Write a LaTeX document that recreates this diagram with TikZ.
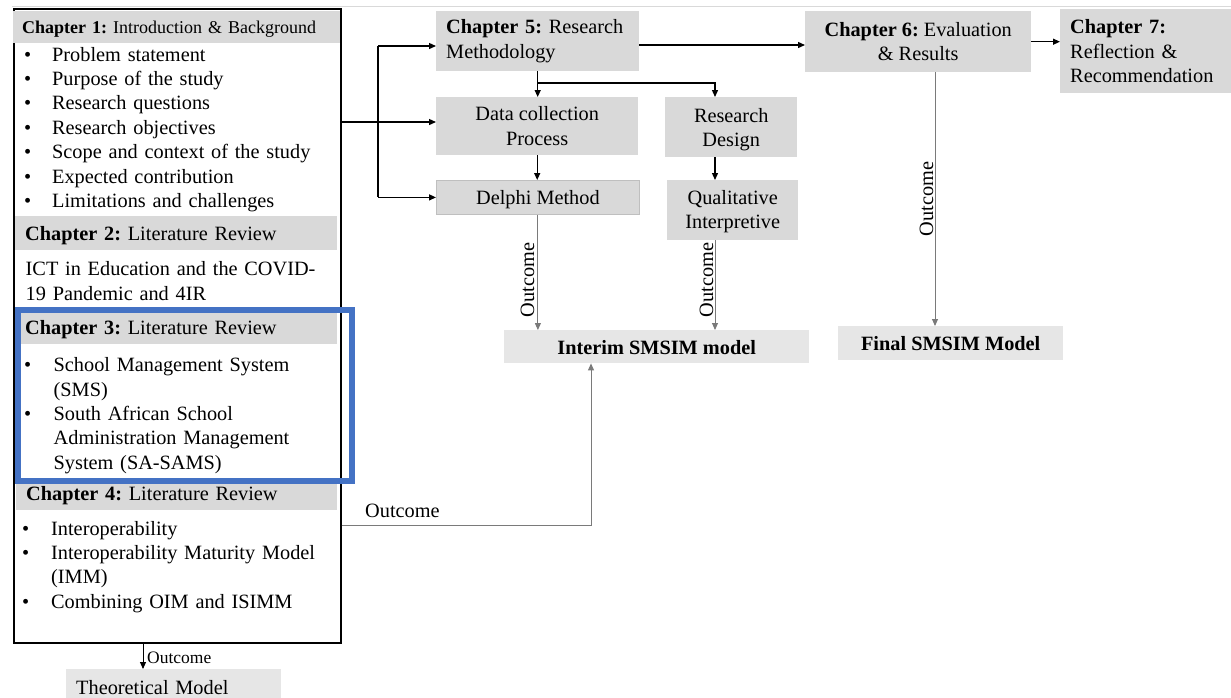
\documentclass[tikz,border=0pt]{standalone}
\usepackage{fontspec}
\setmainfont{Liberation Serif}
\usetikzlibrary{arrows.meta}
\definecolor{hdr}{HTML}{D9D9D9}
\definecolor{lite}{HTML}{E6E6E6}
\definecolor{edge}{HTML}{BFBFBF}
\definecolor{hl}{HTML}{4472C4}
\definecolor{thin}{HTML}{7A7A7A}
\newcommand\fsA{\fontsize{20.3pt}{24.4pt}\selectfont}
\newcommand\fsB{\fontsize{18pt}{22pt}\selectfont}
\newcommand\fsC{\fontsize{17.5pt}{21pt}\selectfont}
\newcommand\bul{\makebox[28pt][l]{•}}
\frenchspacing
\hyphenpenalty=10000
\exhyphenpenalty=10000
\begin{document}
\frenchspacing
\begin{tikzpicture}[x=1pt,y=-1pt,
  box/.style={fill=hdr, inner sep=0pt, anchor=north west, font=\fsA},
  one/.style={text height=14pt, text depth=0pt},
  list/.style={anchor=base west, inner sep=0pt, align=left, font=\fsA},
  arr/.style={line width=1.3pt, -{Triangle[length=7pt,width=6pt]}},
  garr/.style={line width=0.9pt, draw=thin, -{Triangle[length=7pt,width=6pt]}},
  lab/.style={inner sep=0pt, font=\fsA}]
\useasboundingbox (0,0) rectangle (1231,697);

% thin rule along the top
\draw[hdr, line width=1.5pt] (12,6.5) -- (1231,6.5);

% left column: chapters 1-4
\node[draw=black, line width=1.6pt, minimum width=327pt, minimum height=634pt,
      anchor=north west, inner sep=0pt] (main) at (13,8) {};

\node[box, one, text height=12.6pt, font=\fsB, minimum width=327pt, minimum height=32pt, text width=309pt,
      inner xsep=9pt, align=left] (ch1) at (13,11) {\textbf{Chapter 1:} Introduction \& Background};
\node[list, text width=300pt] (l1) at (24,61)
  {\bul Problem statement\\
   \bul Purpose of the study\\
   \bul Research questions\\
   \bul Research objectives\\
   \bul Scope and context of the study\\
   \bul Expected contribution\\
   \bul Limitations and challenges};

\node[box, one, minimum width=322pt, minimum height=34pt, text width=302pt,
      inner xsep=10pt, align=left] (ch2) at (15,216) {\textbf{Chapter 2:} Literature Review};
\node[list, text width=315pt] (l2) at (25.5,275.7)
  {ICT in Education and the COVID-\\19 Pandemic and 4IR};

\node[box, one, text height=11pt, minimum width=318pt, minimum height=31pt, text width=306pt,
      inner xsep=6pt, align=left] (ch3) at (19,313) {\textbf{Chapter 3:} Literature Review};
\node[list, text width=300pt] (l3) at (24,371.7)
  {\makebox[29.5pt][l]{•}School Management System\\
   \makebox[29.5pt][l]{}(SMS)\\
   \makebox[29.5pt][l]{•}South African School\\
   \makebox[29.5pt][l]{}Administration Management\\
   \makebox[29.5pt][l]{}System (SA-SAMS)};

\node[box, one, text height=9.5pt, minimum width=321pt, minimum height=29pt, text width=301pt,
      inner xsep=10pt, align=left] (ch4) at (16,481) {\textbf{Chapter 4:} Literature Review};
\node[list, text width=310pt] (l4) at (22,535)
  {\makebox[29pt][l]{•}Interoperability\\
   \makebox[29pt][l]{•}Interoperability Maturity Model\\
   \makebox[29pt][l]{}(IMM)\\
   \makebox[29pt][l]{•}Combining OIM and ISIMM};

% highlight around chapter 3
\node[draw=hl, line width=6pt, minimum width=334pt, minimum height=171pt,
      anchor=north west, inner sep=0pt] (hlbox) at (15,307) {};

\node[box, one, fill=lite, minimum width=215pt, minimum height=36pt, text width=195pt,
      inner xsep=10pt, align=left] (tm) at (66,669) {Theoretical Model};

% chapter 5 and its methods
\node[box, minimum width=203pt, minimum height=60pt, text width=183pt,
      inner xsep=10pt, align=left] (ch5) at (436,11) {\textbf{Chapter 5:} Research\\Methodology};
\node[box, minimum width=202pt, minimum height=58pt, align=center] (dc) at (436,97)
  {Data collection\\Process};
\node[box, one, draw=edge, line width=0.8pt, minimum width=203pt, minimum height=34pt] (dph)
  at (436,180) {Delphi Method};
\node[box, minimum width=132pt, minimum height=60pt, align=center] (rd) at (665,97)
  {\rule{0pt}{19pt}Research\\Design};
\node[box, minimum width=131pt, minimum height=60pt, align=center] (qi) at (667,180)
  {\rule{0pt}{17pt}Qualitative\\Interpretive};
\node[box, one, text height=15pt, fill=lite, minimum width=305pt, minimum height=33pt] (im) at (504,330)
  {\textbf{Interim SMSIM model}};

% chapters 6 and 7
\node[box, minimum width=226pt, minimum height=61pt, align=center] (ch6) at (805,11)
  {\textbf{Chapter 6:} Evaluation\\\& Results};
\node[box, minimum width=171pt, minimum height=84pt, text width=151pt,
      inner xsep=10pt, align=left] (ch7) at (1060,9)
  {\textbf{Chapter 7:}\\Reflection \&\\Recommendation};
\node[box, one, fill=lite, minimum width=225pt, minimum height=34pt] (fin) at (838,326)
  {\textbf{Final SMSIM Model}};

% routing points
\coordinate (sp) at (378,122);
\coordinate (t5) at (378,46);
\coordinate (r5) at (700,45);
\coordinate (br) at (715,83);
\coordinate (mo) at (591,525);
\coordinate (c6) at (935,72);
\coordinate (mt) at (143,642);

% connectors from the left column
\draw[arr] (main.east |- sp) -- (sp -| dc.west);
\draw[line width=1.3pt] (t5) -- (t5 |- dph.west);
\draw[arr] (t5) -- (t5 -| ch5.west);
\draw[arr] (t5 |- dph.west) -- (dph.west);
\draw[garr] (main.east |- mo) -- (mo) -- (mo |- im.south);
\draw[line width=0.9pt, -{Triangle[length=7pt,width=6pt]}] (mt |- main.south) -- (mt |- tm.north);

% chapter 5 flow
\draw[arr] (ch5.east |- r5) -- (ch6.west |- r5);
\draw[arr] (ch5.south) -- (ch5.south |- dc.north);
\draw[arr] (ch5.south |- br) -- (br) -- (br |- rd.north);
\draw[arr] (dc.south) -- (dc.south |- dph.north);
\draw[arr] (br |- rd.south) -- (br |- qi.north);
\draw[garr] (dph.south) -- (dph.south |- im.north);
\draw[garr] (br |- qi.south) -- (br |- im.north);

% chapter 6 flow
\draw[arr] (ch6.east) -- (ch6.east -| ch7.west);
\draw[garr] (c6 |- ch6.south) -- (c6 |- fin.north);

% outcome labels
\node[lab, rotate=90, anchor=south] (o1) at (534.5,280) {Outcome};
\node[lab, rotate=90, anchor=south] (o2) at (713.5,280) {Outcome};
\node[lab, rotate=90, anchor=south] (o3) at (933.5,199) {Outcome};
\node[lab, anchor=base west] (o4) at (365,517) {Outcome};
\node[lab, font=\fsC, anchor=base west] (o5) at (147,663) {Outcome};
\end{tikzpicture}
\end{document}
